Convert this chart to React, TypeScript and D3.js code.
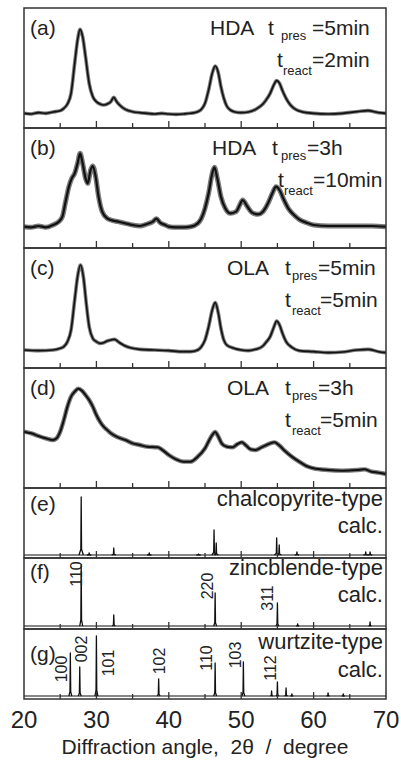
import React from "react";
import * as d3 from "d3";

// ---------- DATA ----------
const majorTicks = [20, 30, 40, 50, 60, 70];
const minorTicks = [25, 35, 45, 55, 65];
const tickLabels = ["20", "30", "40", "50", "60", "70"];

// measured patterns: [2θ, counts (a.u.)]
const hdaShort: [number, number][] = [
  [20, 44], [21, 42], [22, 46], [23, 44], [24, 48], [25, 52], [25.5, 59], [26, 72], [26.5, 104],
  [27, 194], [27.4, 264], [27.75, 296], [28.1, 274], [28.5, 214], [29, 134], [29.5, 94], [30, 79],
  [30.5, 72], [31, 69], [31.5, 72], [32, 79], [32.4, 92], [32.8, 79], [33.2, 69], [34, 56], [35, 49],
  [36, 46], [37, 44], [38, 42], [39, 44], [40, 42], [41, 41], [42, 42], [43, 44], [44, 49], [44.5, 56],
  [45, 74], [45.5, 114], [46, 164], [46.4, 186], [46.8, 169], [47.2, 124], [47.6, 89], [48, 66],
  [48.5, 54], [49, 49], [50, 46], [51, 48], [52, 56], [53, 72], [53.5, 86], [54, 104], [54.5, 129],
  [54.9, 142], [55.3, 134], [55.7, 112], [56.2, 89], [56.8, 69], [57.5, 56], [58.5, 48], [60, 44],
  [62, 42], [64, 44], [66, 49], [67.5, 52], [69, 46], [70, 44],
];
const hdaLong: [number, number][] = [
  [20, 64], [21, 62], [22, 66], [23, 62], [24, 69], [24.8, 79], [25.3, 94], [25.7, 134], [26.2, 184],
  [26.6, 209], [27, 224], [27.4, 254], [27.75, 284], [28.1, 254], [28.5, 209], [28.8, 194], [29.2, 234],
  [29.5, 246], [29.9, 214], [30.3, 154], [30.8, 109], [31.5, 89], [32, 84], [33, 79], [34, 74], [35, 69],
  [36, 66], [37, 72], [37.8, 79], [38.3, 88], [38.8, 76], [39.5, 69], [40, 64], [41, 62], [42, 62],
  [43, 64], [44, 74], [44.5, 89], [45, 119], [45.5, 164], [46, 224], [46.3, 242], [46.7, 209],
  [47.2, 154], [47.8, 119], [48.5, 104], [49.3, 109], [49.8, 129], [50.2, 144], [50.8, 126],
  [51.5, 106], [52.3, 101], [53, 109], [53.7, 134], [54.3, 164], [54.8, 184], [55.3, 174],
  [55.8, 149], [56.5, 119], [57.3, 99], [58, 86], [59, 76], [60, 69], [62, 66], [64, 66], [66, 66],
  [68, 66], [70, 64],
];
const olaShort: [number, number][] = [
  [20, 54], [22, 52], [24, 54], [25, 59], [25.5, 64], [26, 79], [26.5, 114], [27, 204], [27.4, 274],
  [27.8, 309], [28.2, 274], [28.6, 194], [29, 124], [29.5, 89], [30, 79], [30.5, 74], [31, 76],
  [31.5, 81], [32, 84], [32.5, 86], [33, 79], [33.5, 72], [34, 66], [35, 59], [36, 56], [38, 54],
  [40, 52], [42, 49], [43, 49], [44, 54], [44.5, 64], [45, 84], [45.5, 124], [46, 174], [46.4, 196],
  [46.8, 169], [47.2, 119], [47.6, 84], [48, 69], [49, 59], [50, 54], [51, 52], [52, 56], [53, 66],
  [53.5, 79], [54, 94], [54.5, 122], [54.9, 141], [55.3, 129], [55.7, 104], [56.2, 79], [57, 62],
  [58, 52], [60, 49], [62, 46], [64, 48], [66, 54], [67.5, 56], [69, 49], [70, 46],
];
const olaLong: [number, number][] = [
  [20, 169], [21, 164], [22, 156], [23, 149], [24, 144], [24.5, 149], [25, 169], [25.5, 204],
  [26, 244], [26.5, 274], [27, 289], [27.5, 298], [28, 292], [28.5, 279], [29, 264], [29.5, 244],
  [30, 219], [30.5, 199], [31, 184], [31.5, 174], [32, 164], [33, 152], [34, 144], [35, 134],
  [36, 129], [37, 124], [38.5, 122], [39, 116], [40, 99], [41, 86], [42, 79], [43, 79], [44, 94],
  [45, 119], [45.6, 144], [46, 159], [46.4, 168], [46.8, 156], [47.3, 134], [48, 124], [48.8, 122],
  [49.5, 132], [50.1, 137], [50.6, 129], [51.3, 116], [52, 114], [52.8, 122], [53.5, 129], [54, 134],
  [54.6, 137], [55.2, 129], [56, 112], [57, 94], [58, 79], [59, 66], [60, 59], [62, 54], [64, 52],
  [66, 54], [67, 56], [68, 49], [69, 46], [70, 42],
];

// calculated patterns
const chalcoPos = [27.9, 29.0, 32.4, 37.3, 44.1, 46.25, 46.55, 54.9, 55.25, 57.7, 67.2, 67.8];
const chalcoInt = [58, 2, 7, 2, 1, 25, 12, 17, 10, 3, 3, 3];

const zincPos = [27.9, 32.4, 46.4, 55.0, 57.8, 67.8];
const zincInt = [61, 11, 33, 23, 2, 4];
const zincHkl = ["110", "", "220", "311", "", ""];

const wurtzPos = [26.4, 27.7, 30.0, 38.6, 46.4, 50.3, 54.2, 55.0, 56.2, 57.0, 62.0, 64.1];
const wurtzInt = [43, 29, 60, 17, 33, 34, 5, 14, 8, 2, 3, 2];
const wurtzHkl = ["100", "002", "101", "102", "110", "103", "", "112", "", "", "", ""];

const panelLetters = ["(a)", "(b)", "(c)", "(d)", "(e)", "(f)", "(g)"];
const solvents = ["HDA", "HDA", "OLA", "OLA"];
const presTimes = ["=5min", "=3h", "=5min", "=3h"];
const reactTimes = ["=2min", "=10min", "=5min", "=5min"];
const calcNames = ["chalcopyrite-type", "zincblende-type", "wurtzite-type"];

// ---------- LAYOUT / STYLE ----------
const W = 401, H = 760;
const X0 = 24, X1 = 386;
const FONT = "'Liberation Sans', Arial, Helvetica, sans-serif";
const expPanels = [
  { top: 8, bottom: 128, band: 3.6, core: 1.6 },
  { top: 128, bottom: 248, band: 5, core: 2.2 },
  { top: 248, bottom: 368, band: 3.6, core: 1.6 },
  { top: 368, bottom: 488, band: 4.4, core: 2 },
];
const calcPanels = [
  { top: 488, bottom: 558, base: 555 },
  { top: 558, bottom: 629, base: 626 },
  { top: 629, bottom: 699, base: 696 },
];
const condLayout = [
  { sx: 210, t1: 268, s1: 281, e1: 312, t2: 277, s2: 283, e2: 312 },
  { sx: 212, t1: 272, s1: 281, e1: 307, t2: 278, s2: 284, e2: 313 },
  { sx: 227, t1: 285, s1: 292, e1: 318, t2: 285, s2: 292, e2: 320 },
  { sx: 227, t1: 285, s1: 292, e1: 318, t2: 285, s2: 292, e2: 320 },
];
const calcTextY = [[506, 533], [575, 602], [649, 677]];
const letterY = [35, 155, 275, 395, 511, 579, 661];
// label offsets: dx from peak line (px, baseline of rotated text), dy = center height above trace baseline
const zincLabelPos: Record<string, [number, number]> = { "110": [0.5, 52], "220": [-2, 40], "311": [-4, 28] };
const wurtzLabelPos: Record<string, [number, number]> = {
  "100": [-3, 27], "002": [7, 47], "101": [18, 33], "102": [6, 35], "110": [-3, 38], "103": [-2, 41], "112": [-1, 28],
};

const x = d3.scaleLinear().domain([20, 70]).range([X0, X1]);

function Frame({ top, bottom }: { top: number; bottom: number }) {
  return (
    <g>
      <rect x={X0} y={top} width={X1 - X0} height={bottom - top} fill="none" stroke="#333" strokeWidth={1.5} />
      {majorTicks.slice(1, -1).map((t) => (
        <line key={"M" + t} x1={x(t)} x2={x(t)} y1={bottom} y2={bottom - 7} stroke="#333" strokeWidth={1.3} />
      ))}
      {minorTicks.map((t) => (
        <line key={"m" + t} x1={x(t)} x2={x(t)} y1={bottom} y2={bottom - 5} stroke="#333" strokeWidth={1.3} />
      ))}
    </g>
  );
}

function ExpPanel({ i, data }: { i: number; data: [number, number][] }) {
  const p = expPanels[i];
  const y = d3.scaleLinear().domain([0, 360]).range([p.bottom, p.top]);
  const line = d3.line<[number, number]>().x((d) => x(d[0])).y((d) => y(d[1])).curve(d3.curveMonotoneX);
  const path = line(data) || "";
  const L = condLayout[i];
  const y1 = letterY[i];
  const y2 = y1 + 32;
  return (
    <g>
      <path d={path} fill="none" stroke="#7a7a7a" strokeWidth={p.band} strokeLinejoin="round" />
      <path d={path} fill="none" stroke="#111" strokeWidth={p.core} strokeLinejoin="round" />
      <Frame top={p.top} bottom={p.bottom} />
      <g fontFamily={FONT} fill="#222">
        <text x={30} y={y1} fontSize={21}>{panelLetters[i]}</text>
        <text x={L.sx} y={y1} fontSize={21}>{solvents[i]}</text>
        <text x={L.t1} y={y1} fontSize={21}>t</text>
        <text x={L.s1} y={y1 + 5} fontSize={13}>pres</text>
        <text x={L.e1} y={y1} fontSize={21}>{presTimes[i]}</text>
        <text x={L.t2} y={y2} fontSize={21}>t</text>
        <text x={L.s2} y={y2 + 8} fontSize={13}>react</text>
        <text x={L.e2} y={y2} fontSize={21}>{reactTimes[i]}</text>
      </g>
    </g>
  );
}

function CalcPanel({ i, pos, ints, hkl, labelPos, labelSize }: {
  i: number; pos: number[]; ints: number[]; hkl?: string[]; labelPos?: Record<string, [number, number]>; labelSize?: number;
}) {
  const p = calcPanels[i];
  const y = d3.scaleLinear().domain([0, 65]).range([p.base, p.base - 65]);
  const line = d3.line<[number, number]>().x((d) => x(d[0])).y((d) => y(d[1]));
  const wide = i === 0 ? 0.3 : 0.2;
  return (
    <g>
      <path d={line([[20, 0], [70, 0]]) || ""} stroke="#111" strokeWidth={1.1} fill="none" />
      {pos.map((a, k) => (
        <path
          key={k}
          d={line([[a - wide, 0], [a - 0.05, ints[k] * 0.1], [a, ints[k]], [a + 0.05, ints[k] * 0.1], [a + wide, 0]]) || ""}
          stroke="#111" strokeWidth={1.3} fill="none" strokeLinejoin="round"
        />
      ))}
      <Frame top={p.top} bottom={p.bottom} />
      <g fontFamily={FONT} fill="#222">
        <text x={30} y={letterY[4 + i]} fontSize={21}>{panelLetters[4 + i]}</text>
        <text x={383} y={calcTextY[i][0]} fontSize={22} textAnchor="end">{calcNames[i]}</text>
        <text x={383} y={calcTextY[i][1]} fontSize={22} textAnchor="end">calc.</text>
        {hkl && labelPos && pos.map((a, k) => {
          const h = hkl[k];
          if (!h) return null;
          const [dx, dy] = labelPos[h];
          return (
            <text key={"l" + k} transform={`translate(${x(a) + dx},${p.base - dy}) rotate(-90)`}
              fontSize={labelSize} textAnchor="middle">{h}</text>
          );
        })}
      </g>
    </g>
  );
}

export default function App() {
  const exp = [hdaShort, hdaLong, olaShort, olaLong];
  return (
    <svg width={W} height={H} style={{ position: "absolute", left: 0, top: 0, background: "#fff" }}>
      <rect width={W} height={H} fill="#fff" />
      {exp.map((d, i) => <ExpPanel key={i} i={i} data={d} />)}
      <CalcPanel i={0} pos={chalcoPos} ints={chalcoInt} />
      <CalcPanel i={1} pos={zincPos} ints={zincInt} hkl={zincHkl} labelPos={zincLabelPos} labelSize={16} />
      <CalcPanel i={2} pos={wurtzPos} ints={wurtzInt} hkl={wurtzHkl} labelPos={wurtzLabelPos} labelSize={16} />
      <g fontFamily={FONT} fill="#222">
        {majorTicks.map((t, k) => (
          <text key={t} x={x(t)} y={728} fontSize={24} textAnchor="middle">{tickLabels[k]}</text>
        ))}
        <text x={205} y={754} fontSize={21} textAnchor="middle" style={{ whiteSpace: "pre" }}>
          {"Diffraction angle,  2θ  /  degree"}
        </text>
      </g>
    </svg>
  );
}
